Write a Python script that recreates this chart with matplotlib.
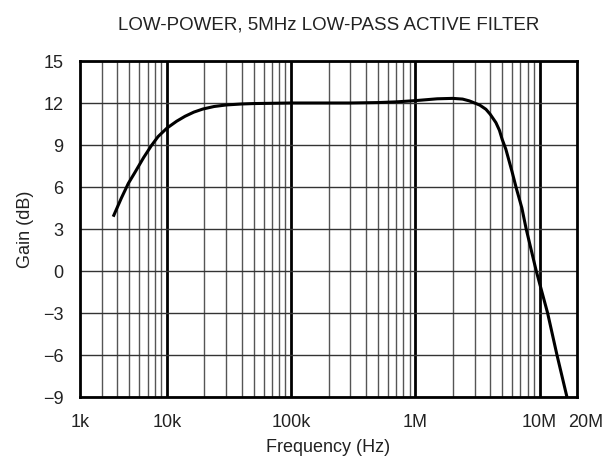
import matplotlib
matplotlib.use("Agg")
import matplotlib.pyplot as plt
import matplotlib.transforms as mtransforms
from matplotlib.ticker import LogLocator, NullFormatter, FixedLocator

plt.rcParams['font.family'] = ['Liberation Sans', 'DejaVu Sans']

# gain response
freq_hz = [3.7e3, 4.3e3, 4.9e3, 5.5e3, 6.5e3, 7.5e3, 8.5e3, 1.0e4, 1.2e4, 1.4e4,
           1.65e4, 1.95e4, 2.4e4, 3.0e4, 4.0e4, 5.0e4, 1.0e5, 3.0e5, 5.0e5, 7.0e5,
           1.0e6, 1.5e6, 2.0e6, 2.4e6, 2.72e6, 3.0e6, 3.3e6, 3.7e6, 4.0e6, 4.45e6,
           4.75e6, 5.0e6, 5.35e6, 6.0e6, 6.5e6, 7.2e6, 7.8e6, 9.4e6, 1.16e7, 1.38e7,
           1.66e7]
gain_db = [3.88, 5.2, 6.26, 7.0, 8.1, 8.95, 9.6, 10.2, 10.7, 11.05,
           11.35, 11.57, 11.75, 11.86, 11.93, 11.96, 12.0, 12.0, 12.03, 12.08,
           12.17, 12.3, 12.33, 12.28, 12.15, 12.0, 11.85, 11.55, 11.2, 10.6,
           10.05, 9.4, 8.7, 7.1, 5.9, 4.5, 3.0, 0.0, -3.0, -6.0,
           -9.0]

x_ticks = [2e3, 1e4, 1e5, 1e6, 1e7, 2e7]
x_labels = ['1k', '10k', '100k', '1M', '10M', '20M']
y_ticks = [-9, -6, -3, 0, 3, 6, 9, 12, 15]
y_labels = ['\u22129', '\u22126', '\u22123', '0', '3', '6', '9', '12', '15']
decades = [1e4, 1e5, 1e6, 1e7]

fig = plt.figure(figsize=(6.08, 4.57), dpi=100)
ax = fig.add_axes([80/608, 1 - 397/457, 497/608, 336/457])

ax.set_xscale('log')
ax.set_xlim(2e3, 2e7)
ax.set_ylim(-9, 15)

ax.xaxis.set_major_locator(FixedLocator(x_ticks))
ax.set_xticklabels(x_labels)
ax.xaxis.set_minor_locator(LogLocator(base=10, subs=range(2, 10), numticks=20))
ax.xaxis.set_minor_formatter(NullFormatter())
ax.set_yticks(y_ticks)
ax.set_yticklabels(y_labels)
ax.tick_params(which='both', length=0, labelsize=13, colors='#222222')
ax.tick_params(axis='x', pad=12)
ax.tick_params(axis='y', pad=12)

# last x label sits a bit right of the frame edge in the reference
last = ax.get_xticklabels()[-1]
last.set_transform(last.get_transform() +
                   mtransforms.ScaledTranslation(9/100, 0, fig.dpi_scale_trans))

ax.grid(which='minor', axis='x', color='#555555', lw=1.0)
ax.grid(which='major', axis='y', color='#333333', lw=1.0)
for d in decades:
    ax.axvline(d, color='black', lw=2.0, zorder=1.5)

ax.plot(freq_hz, gain_db, color='black', lw=2.2, zorder=3,
        solid_capstyle='butt', solid_joinstyle='round')

for s in ax.spines.values():
    s.set_linewidth(2.0)
    s.set_color('black')

ax.set_title('LOW-POWER, 5MHz LOW-PASS ACTIVE FILTER', fontsize=13.5,
             color='#222222', pad=23)
ax.set_xlabel('Frequency (Hz)', fontsize=13, color='#222222', labelpad=6)
ax.set_ylabel('Gain (dB)', fontsize=13, color='#222222', labelpad=6)

fig.savefig('out.png', dpi=100)
